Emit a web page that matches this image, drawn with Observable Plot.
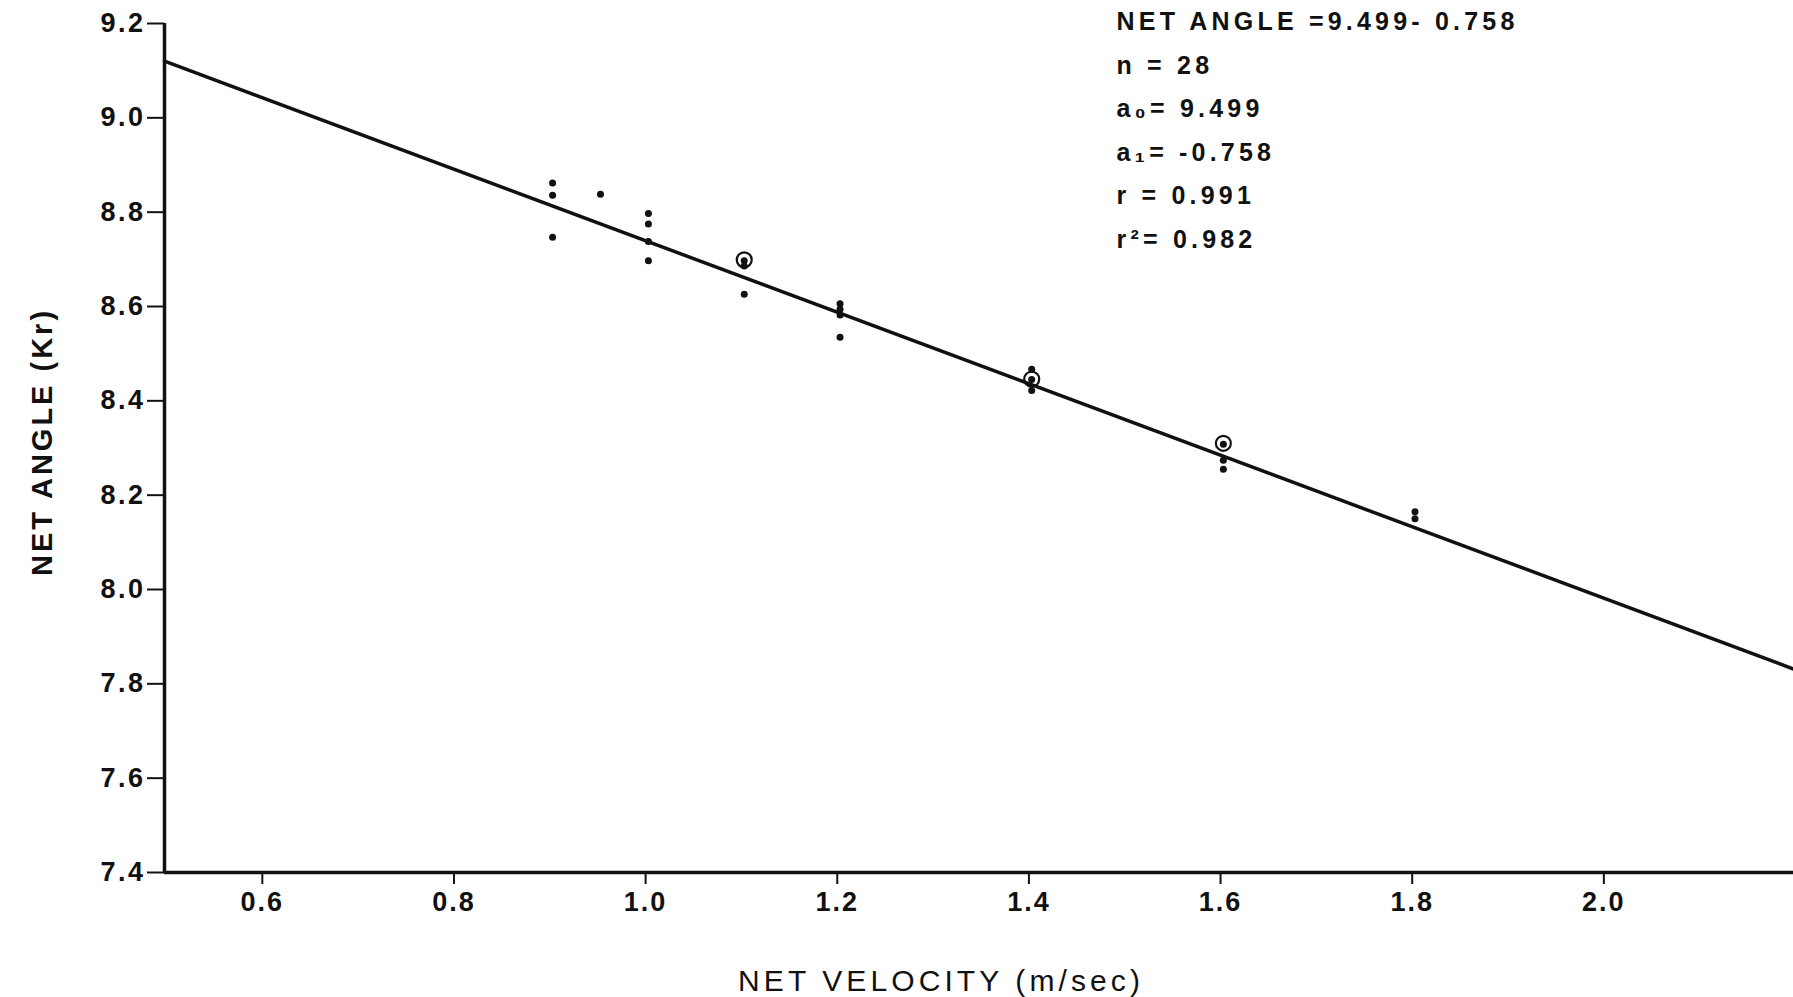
<!DOCTYPE html>
<html>
<head>
<meta charset="utf-8">
<script src="https://cdn.jsdelivr.net/npm/d3@7"></script>
<script src="https://cdn.jsdelivr.net/npm/@observablehq/plot@0.6"></script>
<style>
  body { margin: 0; background: #fff; }
  #chart svg { display: block; background: #fff; }
  .tick-x text { letter-spacing: 2px; }
  .tick-y text { letter-spacing: 2.5px; }
  .stats text { letter-spacing: 4.2px; }
  .title-x text { letter-spacing: 4.1px; }
  .title-y text { letter-spacing: 3px; }
</style>
</head>
<body>
<div id="chart"></div>
<script>
// ---- data ----
const velocity = [0.905, 0.905, 0.905, 0.955, 1.005, 1.005, 1.005, 1.005,
                  1.105, 1.105, 1.105, 1.205, 1.205, 1.205, 1.205,
                  1.405, 1.405, 1.405, 1.605, 1.605, 1.605, 1.805, 1.805];
const angle    = [8.862, 8.836, 8.747, 8.838, 8.797, 8.775, 8.738, 8.697,
                  8.697, 8.686, 8.626, 8.606, 8.594, 8.582, 8.535,
                  8.467, 8.445, 8.422, 8.308, 8.274, 8.255, 8.165, 8.150];
const circledVelocity = [1.105, 1.405, 1.605];
const circledAngle    = [8.699, 8.446, 8.310];

const a0 = 9.499;
const a1 = -0.758;
const fitVelocity = [0.5, 2.2];

const xTicks = [0.6, 0.8, 1.0, 1.2, 1.4, 1.6, 1.8, 2.0];
const yTicks = [7.4, 7.6, 7.8, 8.0, 8.2, 8.4, 8.6, 8.8, 9.0, 9.2];
const xDomain = [0.5, 2.2];
const yDomain = [7.4, 9.2];

const statLines = ["NET ANGLE =9.499- 0.758", "n = 28", "a\u2080= 9.499", "a\u2081= -0.758", "r = 0.991", "r\u00B2= 0.982"];
const xLabel = "NET VELOCITY (m/sec)";
const yLabel = "NET ANGLE (Kr)";

// ---- tables built from the arrays ----
const points = velocity.map((v, i) => ({v, a: angle[i]}));
const circled = circledVelocity.map((v, i) => ({v, a: circledAngle[i]}));
const fit = fitVelocity.map(v => ({v, a: a0 + a1 * v}));

const font = "'Liberation Sans', Arial, Helvetica, sans-serif";
const ink = "#111";

const chart = Plot.plot({
  width: 1793,
  height: 997,
  marginLeft: 164,
  marginRight: 0,
  marginTop: 23,
  marginBottom: 125,
  style: {fontFamily: font, color: ink, background: "#fff"},
  x: {domain: xDomain},
  y: {domain: yDomain},
  marks: [
    Plot.axisY({ticks: yTicks, tickFormat: d3.format(".1f"), tickSize: 17, tickPadding: 2,
      fontSize: 27, fontWeight: "bold", strokeWidth: 2, label: null, className: "tick-y"}),
    Plot.axisX({ticks: xTicks, tickFormat: d3.format(".1f"), tickSize: 12, tickPadding: 7,
      fontSize: 27, fontWeight: "bold", strokeWidth: 2, label: null, dx: 2, className: "tick-x"}),
    Plot.ruleX([xDomain[0]], {stroke: ink, strokeWidth: 3.5}),
    Plot.ruleY([yDomain[0]], {stroke: ink, strokeWidth: 3.5}),
    Plot.line(fit, {x: "v", y: "a", stroke: ink, strokeWidth: 3.5}),
    Plot.dot(points, {x: "v", y: "a", r: 3.5, fill: ink, stroke: "none"}),
    Plot.dot(circled, {x: "v", y: "a", r: 7.5, fill: "none", stroke: ink, strokeWidth: 2.2}),
    Plot.text([statLines.join("\n")], {frameAnchor: "top-left", dx: 952, dy: -24,
      textAnchor: "start", lineHeight: 1.74, fontSize: 25, fontWeight: "bold", fill: ink, className: "stats"}),
    Plot.text([xLabel], {frameAnchor: "bottom", dx: -38, dy: 118, fontSize: 30, fill: ink, className: "title-x"}),
    Plot.text([yLabel], {frameAnchor: "left", textAnchor: "middle", dx: -122, dy: -6, rotate: -90,
      fontSize: 29, fontWeight: "bold", fill: ink, className: "title-y"})
  ]
});
document.getElementById("chart").append(chart);
</script>
</body>
</html>
